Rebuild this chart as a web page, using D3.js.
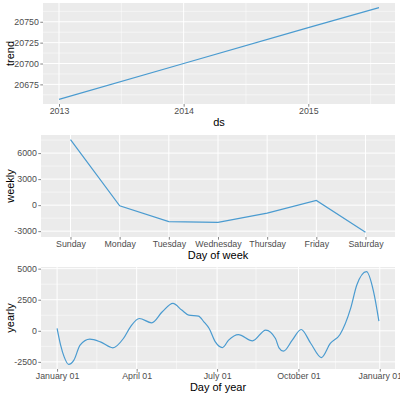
<!DOCTYPE html>
<html>
<head>
<meta charset="utf-8">
<script src="https://cdn.jsdelivr.net/npm/d3@7"></script>
<style>
  body { margin: 0; background: #fff; }
  svg { display: block; font-family: "Liberation Sans", Arial, sans-serif; }
</style>
</head>
<body>
<svg id="chart" width="400" height="399"></svg>
<script>
// trend
const trendDates = ["2013-01-01", "2014-01-01", "2015-01-01", "2015-07-27"];
const trendValues = [20657, 20700, 20743, 20767];
const trendTicks = [20675, 20700, 20725, 20750];
const trendYearTicks = ["2013-01-01", "2014-01-01", "2015-01-01"];

// weekly
const weekDays = ["Sunday", "Monday", "Tuesday", "Wednesday", "Thursday", "Friday", "Saturday"];
const weeklyValues = [7550, -80, -1900, -1980, -930, 535, -3140];
const weeklyTicks = [-3000, 0, 3000, 6000];

// yearly (day offsets from January 01)
const yearlyDays = [0, 4, 8, 13, 19, 26, 37, 49, 63, 75, 83, 93, 107, 119, 131, 141, 149, 160, 166, 172,
  179, 187, 194, 205, 221, 236, 247, 251, 256, 266, 276, 287, 299, 309, 320, 332, 339, 350, 358, 364];
const yearlyValues = [200, -1150, -2100, -2700, -2360, -1150, -670, -890, -1370, -620, 320, 990, 645, 1530, 2200, 1670, 1265, 1185, 725, 185,
  -890, -1350, -750, -300, -810, 60, -620, -1370, -1640, -750, 105, -1020, -2150, -1020, -300, 1800, 3680, 4760, 3140, 780];
const yearlyTicks = [-2500, 0, 2500, 5000];
const yearlyDateTicks = ["2017-01-01", "2017-04-01", "2017-07-01", "2017-10-01", "2018-01-01"];

const lineColor = "#4a9bd0";
const parse = d3.utcParse("%Y-%m-%d");
const svg = d3.select("#chart");

function expand(ext, m = 0.05) {
  const a = +ext[0], b = +ext[1];
  const d = b - a;
  return [a - d * m, b + d * m];
}

function midpoints(ticks, domain) {
  const all = [];
  const n = ticks.map((t) => +t);
  const step = n[1] - n[0];
  for (let v = n[0] - step / 2; v <= +domain[1]; v += step) {
    if (v >= +domain[0]) all.push(v);
  }
  return all;
}

function drawPanel(p) {
  const g = svg.append("g");
  g.append("rect")
    .attr("x", p.left)
    .attr("y", p.top)
    .attr("width", p.right - p.left)
    .attr("height", p.bottom - p.top)
    .attr("fill", "#EBEBEB");

  // minor grid
  p.yMinor.forEach((v) => {
    g.append("line")
      .attr("x1", p.left).attr("x2", p.right)
      .attr("y1", p.y(v)).attr("y2", p.y(v))
      .attr("stroke", "#fff").attr("stroke-width", 0.5);
  });
  (p.xMinor || []).forEach((v) => {
    g.append("line")
      .attr("x1", p.x(v)).attr("x2", p.x(v))
      .attr("y1", p.top).attr("y2", p.bottom)
      .attr("stroke", "#fff").attr("stroke-width", 0.5);
  });
  // major grid
  p.yTicks.forEach((v) => {
    g.append("line")
      .attr("x1", p.left).attr("x2", p.right)
      .attr("y1", p.y(v)).attr("y2", p.y(v))
      .attr("stroke", "#fff").attr("stroke-width", 1);
  });
  p.xTicks.forEach((v) => {
    g.append("line")
      .attr("x1", p.x(v)).attr("x2", p.x(v))
      .attr("y1", p.top).attr("y2", p.bottom)
      .attr("stroke", "#fff").attr("stroke-width", 1);
  });

  g.append("path")
    .datum(p.data)
    .attr("fill", "none")
    .attr("stroke", lineColor)
    .attr("stroke-width", 1.2)
    .attr("d", d3.line().x((d) => p.x(d[0])).y((d) => p.y(d[1])).curve(p.curve || d3.curveLinear));

  const yAxis = g.append("g")
    .attr("transform", `translate(${p.left},0)`)
    .call(d3.axisLeft(p.y).tickValues(p.yTicks).tickSize(2.7).tickPadding(1.5).tickFormat((v) => String(v)));
  const xAxis = g.append("g")
    .attr("transform", `translate(0,${p.bottom})`)
    .call(d3.axisBottom(p.x).tickValues(p.xTicks).tickSize(2.7).tickPadding(1.3).tickFormat(p.xFormat || null));
  [yAxis, xAxis].forEach((a) => {
    a.select(".domain").remove();
    a.selectAll(".tick line").attr("stroke", "#333333").attr("stroke-width", 0.6);
    a.selectAll(".tick text")
      .attr("fill", "#4D4D4D")
      .attr("font-size", "8.8px")
      .attr("font-family", "Liberation Sans, Arial, sans-serif");
  });

  g.append("text")
    .attr("x", (p.left + p.right) / 2)
    .attr("y", p.bottom + 21.5)
    .attr("text-anchor", "middle")
    .attr("font-size", "11px")
    .attr("fill", "#000")
    .text(p.xTitle);
  g.append("text")
    .attr("transform", `translate(14,${(p.top + p.bottom) / 2}) rotate(-90)`)
    .attr("text-anchor", "middle")
    .attr("font-size", "11px")
    .attr("fill", "#000")
    .text(p.yTitle);
}

// panel 1: trend
const tDates = trendDates.map(parse);
const tTicks = trendYearTicks.map(parse);
const x1 = d3.scaleUtc().domain(expand(d3.extent(tDates)).map((v) => new Date(v))).range([43, 395]);
const y1 = d3.scaleLinear().domain(expand(d3.extent(trendValues))).range([104, 3]);
drawPanel({
  left: 43, right: 395, top: 3, bottom: 104,
  x: x1, y: y1,
  data: tDates.map((d, i) => [d, trendValues[i]]),
  yTicks: trendTicks,
  yMinor: midpoints(trendTicks, y1.domain()),
  xTicks: tTicks,
  xMinor: midpoints(tTicks, x1.domain()).map((v) => new Date(v)),
  xFormat: d3.utcFormat("%Y"),
  xTitle: "ds", yTitle: "trend",
});

// panel 2: weekly
const x2 = d3.scalePoint().domain(weekDays).range([41, 395]).padding(0.6);
const y2 = d3.scaleLinear().domain(expand(d3.extent(weeklyValues))).range([237, 135]);
drawPanel({
  left: 41, right: 395, top: 135, bottom: 237,
  x: x2, y: y2,
  data: weekDays.map((d, i) => [d, weeklyValues[i]]),
  yTicks: weeklyTicks,
  yMinor: midpoints(weeklyTicks, y2.domain()),
  xTicks: weekDays,
  xTitle: "Day of week", yTitle: "weekly",
});

// panel 3: yearly
const yStart = parse("2017-01-01");
const yDates = yearlyDays.map((d) => d3.utcDay.offset(yStart, d));
const yTickDates = yearlyDateTicks.map(parse);
const x3 = d3.scaleUtc().domain(expand(d3.extent(yDates)).map((v) => new Date(v))).range([41, 395]);
const y3 = d3.scaleLinear().domain(expand(d3.extent(yearlyValues))).range([369, 267]);
drawPanel({
  left: 41, right: 395, top: 267, bottom: 369,
  x: x3, y: y3,
  data: yDates.map((d, i) => [d, yearlyValues[i]]),
  curve: d3.curveMonotoneX,
  yTicks: yearlyTicks,
  yMinor: midpoints(yearlyTicks, y3.domain()),
  xTicks: yTickDates,
  xMinor: midpoints(yTickDates, x3.domain()).map((v) => new Date(v)),
  xFormat: d3.utcFormat("%B %d"),
  xTitle: "Day of year", yTitle: "yearly",
});
</script>
</body>
</html>
